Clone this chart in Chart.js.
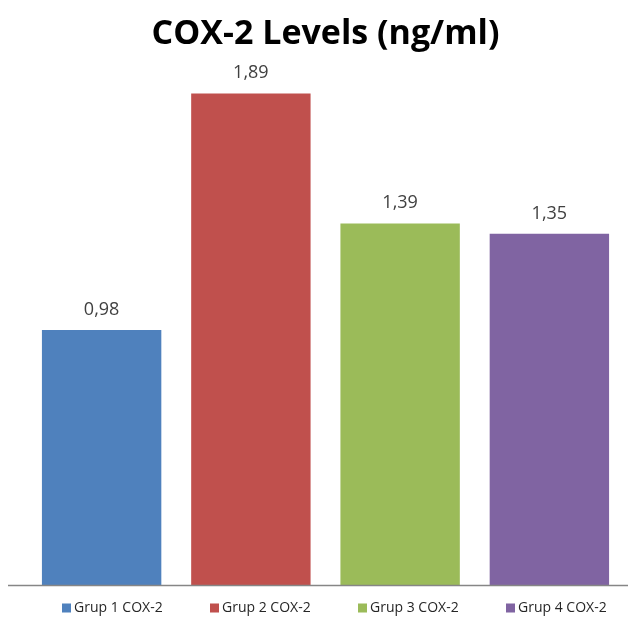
<!DOCTYPE html>
<html><head><meta charset="utf-8">
<script src="https://cdn.jsdelivr.net/npm/chart.js@4"></script>
<style>html,body{margin:0;padding:0;background:#fff}#wrap{width:630px;height:618px}</style>
</head><body><div id="wrap"><canvas id="c" width="630" height="618"></canvas></div>
<script>
const categories = ["Grup 1 COX-2", "Grup 2 COX-2", "Grup 3 COX-2", "Grup 4 COX-2"];
const values = [0.98, 1.89, 1.39, 1.35];
const valueLabels = ["0,98", "1,89", "1,39", "1,35"];
const colors = ["#4F81BD", "#C0504D", "#9BBB59", "#8064A2"];
const FONT = "'Open Sans', sans-serif";

const decor = {
  id: 'decor',
  afterDatasetsDraw(chart) {
    const ctx = chart.ctx;
    const meta = chart.getDatasetMeta(0);
    const area = chart.chartArea;
    const y0 = chart.scales.y.getPixelForValue(0);
    ctx.save();
    // baseline axis
    ctx.strokeStyle = '#868686';
    ctx.lineWidth = 1.5;
    ctx.beginPath();
    ctx.moveTo(8, y0 + 0.5);
    ctx.lineTo(628, y0 + 0.5);
    ctx.stroke();
    // value labels
    ctx.fillStyle = '#404040';
    ctx.font = "18px " + FONT;
    ctx.textAlign = 'center';
    ctx.textBaseline = 'alphabetic';
    meta.data.forEach((bar, i) => {
      ctx.fillText(valueLabels[i], bar.x, bar.y - 15);
    });
    // legend
    ctx.font = "14px " + FONT;
    ctx.textAlign = 'left';
    ctx.textBaseline = 'middle';
    const ly = 608;
    categories.forEach((c, i) => {
      const bx = area.left + 35 + i * 148;
      ctx.fillStyle = colors[i];
      ctx.fillRect(bx, ly - 4.5, 9, 9);
      ctx.fillStyle = '#262626';
      ctx.fillText(c, bx + 12, ly);
    });
    ctx.restore();
  }
};

new Chart(document.getElementById('c'), {
  type: 'bar',
  data: {
    labels: categories,
    datasets: [{ data: values, backgroundColor: colors, borderWidth: 0, categoryPercentage: 0.8, barPercentage: 1.0 }]
  },
  options: {
    responsive: false,
    animation: false,
    devicePixelRatio: 1,
    layout: { padding: { left: 27, right: 6, top: 0, bottom: 33 } },
    scales: {
      x: { display: false },
      y: { display: false, min: 0, max: 2 }
    },
    plugins: {
      title: {
        display: true,
        text: 'COX-2 Levels (ng/ml)',
        color: '#000',
        font: { family: FONT, size: 34, weight: 'bold', lineHeight: 1.2 },
        padding: { top: 14, bottom: 10 }
      },
      legend: { display: false },
      tooltip: { enabled: false }
    }
  },
  plugins: [decor]
});
</script></body></html>
